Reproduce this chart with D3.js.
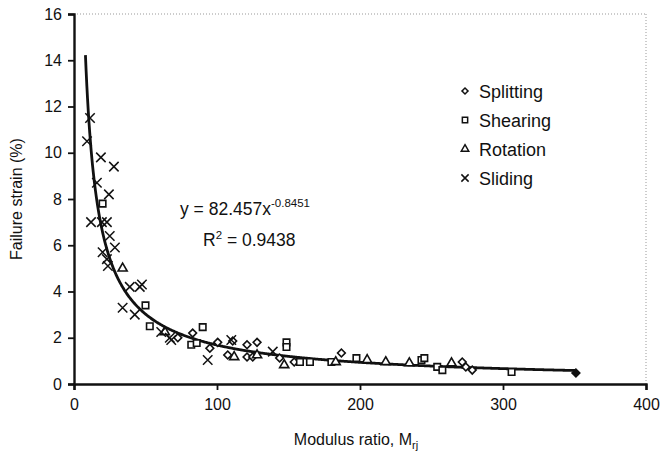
<!DOCTYPE html>
<html><head><meta charset="utf-8">
<script src="https://cdn.jsdelivr.net/npm/d3@7"></script>
<style>body{margin:0;background:#fff;} text{font-family:"Liberation Sans",Arial,sans-serif;fill:#111;}</style>
</head><body><svg id="c" width="661" height="463"></svg>
<script>
const xTicks = [0,100,200,300,400];
const yTicks = [0,2,4,6,8,10,12,14,16];
const legendLabels = ["Splitting","Shearing","Rotation","Sliding"];
const fitA = 82.457, fitB = -0.8451;
const fitRange = [8, 351];
const equationText = "y = 82.457x";
const equationExp = "-0.8451";
const r2Text = "0.9438";

const splittingX = [72.6,83,95,100.5,107.5,111,121,128,121,125,143.8,154,187,271.5,274,278.5,351];
const splittingY = [2.0,2.2,1.55,1.8,1.25,1.86,1.7,1.8,1.17,1.17,1.12,0.95,1.34,0.95,0.74,0.6,0.48];
const shearingX = [20,50,53,82,85.8,90,148.6,148.6,158,165,180,197.5,243,245,254,257.6,306];
const shearingY = [7.8,3.4,2.5,1.7,1.77,2.46,1.8,1.6,0.95,0.95,0.95,1.12,1.04,1.12,0.74,0.6,0.52];
const rotationX = [34,63.5,112,128,147,183,205,218,234.5,264];
const rotationY = [5.0,2.25,1.17,1.25,0.82,0.95,1.04,0.95,0.9,0.9];
const slidingX = [9.1,11.2,18.8,27.9,16,24.4,11.9,19.5,23,25,28.6,20,23,23.7,39,46,47.5,34,42.5,61,67,68,93.5,110,139];
const slidingY = [10.5,11.5,9.8,9.4,8.7,8.2,7.0,7.0,7.0,6.4,5.9,5.7,5.4,5.1,4.2,4.2,4.3,3.3,3.0,2.25,2.0,1.9,1.04,1.9,1.4];

const svg = d3.select("#c");
const x = d3.scaleLinear().domain([0,400]).range([74,646]);
const y = d3.scaleLinear().domain([0,16]).range([384,14]);

svg.append("line").attr("x1",74).attr("x2",646).attr("y1",14).attr("y2",14)
  .attr("stroke","#999").attr("stroke-dasharray","1,2").attr("stroke-width",1);
svg.append("line").attr("x1",646).attr("x2",646).attr("y1",14).attr("y2",384)
  .attr("stroke","#999").attr("stroke-dasharray","1,2").attr("stroke-width",1);

const xAxis = svg.append("g").attr("transform","translate(0,384)")
  .call(d3.axisBottom(x).tickValues(xTicks).tickSize(6).tickPadding(9));
const yAxis = svg.append("g").attr("transform","translate(74,0)")
  .call(d3.axisLeft(y).tickValues(yTicks).tickSize(6).tickPadding(6));
[xAxis,yAxis].forEach(a=>{
  a.select(".domain").attr("stroke","#111").attr("stroke-width",2.4);
  a.selectAll(".tick line").attr("stroke","#111").attr("stroke-width",1.8);
  a.selectAll(".tick text").style("font-family","Liberation Sans, Arial, sans-serif").style("font-size","16px").attr("fill","#111");
});

const curvePts = d3.range(fitRange[0], fitRange[1]+0.01, 0.5).map(v=>[v, fitA*Math.pow(v,fitB)]);
svg.append("path").datum(curvePts)
  .attr("d", d3.line().x(d=>x(d[0])).y(d=>y(d[1])))
  .attr("fill","none").attr("stroke","#111").attr("stroke-width",2.8);

const diamondSym = d3.symbol().type(d3.symbolSquare).size(30);
const mk = {
  diamond: diamondSym,
  square: d3.symbol().type(d3.symbolSquare).size(42),
  triangle: d3.symbol().type(d3.symbolTriangle).size(36),
  cross: d3.symbol().type(d3.symbolX).size(60)
};
function plot(xs, ys, sym, filledLast){
  svg.append("g").selectAll("path").data(xs.map((v,i)=>[v,ys[i]])).join("path")
    .attr("d", mk[sym])
    .attr("transform", d=>`translate(${x(d[0])},${y(d[1])})` + (sym==="diamond"?" rotate(45)":""))
    .attr("fill", (d,i)=> (filledLast && i===xs.length-1) ? "#111" : (sym==="cross" ? "none" : "#fff"))
    .attr("stroke","#111").attr("stroke-width", sym==="cross"?1.5:1.6);
}
plot(splittingX, splittingY, "diamond", true);
plot(shearingX, shearingY, "square");
plot(rotationX, rotationY, "triangle");
plot(slidingX, slidingY, "cross");

const leg = svg.append("g");
const legSym = [d3.symbol().type(d3.symbolSquare).size(18), d3.symbol().type(d3.symbolSquare).size(28),
  d3.symbol().type(d3.symbolTriangle).size(24), d3.symbol().type(d3.symbolX).size(36)];
legendLabels.forEach((lab,i)=>{
  const yy = 91 + i*29;
  leg.append("path").attr("d", legSym[i]).attr("transform",`translate(465,${yy})` + (i===0?" rotate(45)":""))
    .attr("fill", i===3?"none":"#fff").attr("stroke","#111").attr("stroke-width",1.5);
  leg.append("text").attr("x",479).attr("y",yy+6.5).style("font-size","18px").text(lab);
});

const eq = svg.append("text").attr("x",180).attr("y",215).style("font-size","17.5px");
eq.append("tspan").text(equationText);
eq.append("tspan").attr("dy",-8).style("font-size","11.5px").text(equationExp);
const r2 = svg.append("text").attr("x",203).attr("y",246).style("font-size","17.5px");
r2.append("tspan").text("R");
r2.append("tspan").attr("dy",-7).style("font-size","11.5px").text("2");
r2.append("tspan").attr("dy",7).text(" = " + r2Text);

svg.append("text").attr("transform","translate(22,199) rotate(-90)").attr("text-anchor","middle")
  .style("font-size","16px").text("Failure strain (%)");
const xt = svg.append("text").attr("x",356).attr("y",445).attr("text-anchor","middle").style("font-size","16px");
xt.append("tspan").text("Modulus ratio, M");
xt.append("tspan").attr("dy",4).style("font-size","11px").text("rj");
</script></body></html>
